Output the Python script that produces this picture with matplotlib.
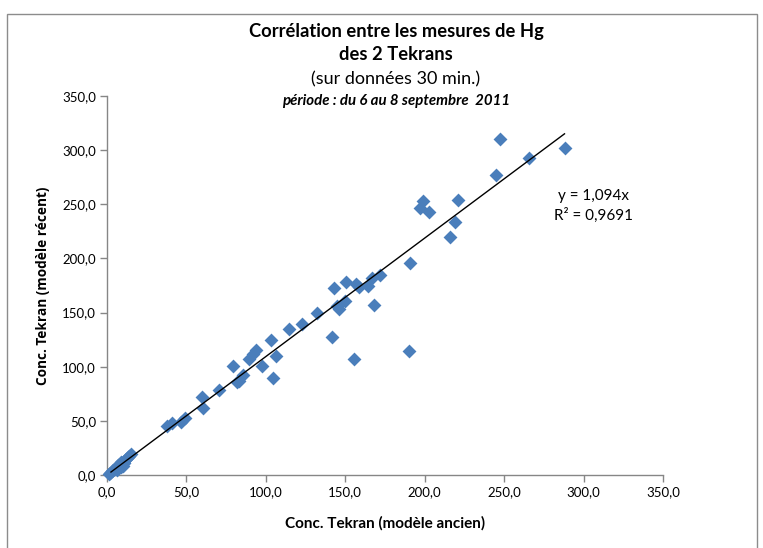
import matplotlib
matplotlib.use("Agg")
import matplotlib.pyplot as plt
from matplotlib.patches import Rectangle
from matplotlib.ticker import FuncFormatter, MultipleLocator

# readings: old-model concentration (x) vs recent-model concentration (y)
old = [1.0, 2.0, 3.0, 4.0, 5.0, 6.0, 6.5, 7.0, 8.0, 8.5, 9.0, 10.0, 10.5, 11.0,
       12.0, 13.0, 14.0, 15.0,
       37.7, 40.8, 46.6, 49.0, 59.8, 60.4, 70.5, 79.4, 81.8, 83.4, 85.8, 89.5,
       91.6, 94.0, 97.8, 103.3, 104.5, 106.3, 114.3, 122.6, 132.4, 141.6, 143.0,
       145.0, 146.0, 149.9, 150.5, 157.0, 158.7, 164.0, 166.7, 168.0, 172.0,
       155.7, 190.0, 191.0, 215.7, 218.8, 220.7, 197.0, 199.0, 203.0, 245.0,
       247.3, 265.4, 288.0]
recent = [0.8, 2.0, 3.5, 4.8, 5.5, 7.0, 4.5, 9.0, 10.5, 7.5, 12.0, 8.5, 13.0, 11.5,
          15.0, 16.5, 18.0, 19.5,
          45.0, 48.4, 49.0, 53.0, 72.0, 62.0, 78.4, 100.6, 86.0, 87.0, 92.0, 107.4,
          112.0, 115.0, 100.3, 125.0, 89.4, 110.0, 135.0, 139.0, 150.0, 127.4, 173.0,
          156.0, 153.5, 161.0, 178.0, 176.0, 174.0, 175.0, 181.6, 156.8, 184.5,
          107.4, 114.5, 196.0, 220.0, 234.0, 253.5, 247.0, 253.0, 242.6, 277.0,
          310.0, 293.0, 302.0]

slope = 1.094
r2 = 0.9691
trend_x = [2.5, 288.0]

FONT = ["Lato", "DejaVu Sans"]
plt.rcParams["font.family"] = FONT

fig = plt.figure(figsize=(7.63, 5.48), dpi=100)
# chart area border (Excel style)
fig.patches.append(Rectangle((7 / 763, -0.05), 750 / 763, 1.05 - 14 / 548,
                             transform=fig.transFigure, fill=False,
                             edgecolor="#8c8c8c", lw=1.0))

ax = fig.add_axes([107 / 763, 73 / 548, 556 / 763, 379 / 548])
ax.scatter(old, recent, marker="D", s=50, color="#4a7ebb", linewidths=0, zorder=3,
           clip_on=False)
ax.plot(trend_x, [slope * v for v in trend_x], color="black", lw=1.0, zorder=4)

ax.set_xlim(0, 350)
ax.set_ylim(0, 350)
ax.xaxis.set_major_locator(MultipleLocator(50))
ax.yaxis.set_major_locator(MultipleLocator(50))
fmt = FuncFormatter(lambda v, p: f"{v:.1f}".replace(".", ","))
ax.xaxis.set_major_formatter(fmt)
ax.yaxis.set_major_formatter(fmt)
for s in ("top", "right"):
    ax.spines[s].set_visible(False)
for s in ("left", "bottom"):
    ax.spines[s].set_color("#868686")
    ax.spines[s].set_linewidth(1.0)
ax.tick_params(direction="out", length=5, width=1, color="#868686",
               labelsize=9.5, labelcolor="black", pad=3)

ax.set_xlabel("Conc. Tekran (modèle ancien)", fontsize=11, fontweight="bold", labelpad=13)
ax.set_ylabel("Conc. Tekran (modèle récent)", fontsize=9.8, fontweight="bold",
              labelpad=9, family=["Open Sans", "DejaVu Sans"])

fig.text(593 / 763, 1 - 196 / 548, f"y = {slope:.3f}x".replace(".", ","),
         ha="center", va="center", fontsize=11)
fig.text(593 / 763, 1 - 215 / 548, f"R² = {r2:.4f}".replace(".", ","),
         ha="center", va="center", fontsize=11)

cx = 396 / 763
fig.text(cx, 1 - 31 / 548, "Corrélation entre les mesures de Hg", ha="center",
         va="center", fontsize=13.2, fontweight="bold")
fig.text(cx, 1 - 55 / 548, "des 2 Tekrans", ha="center", va="center",
         fontsize=13.2, fontweight="bold")
fig.text(cx, 1 - 79 / 548, "(sur données 30 min.)", ha="center", va="center",
         fontsize=13)
fig.text(cx, 1 - 101 / 548, "période : du 6 au 8 septembre  2011", ha="center",
         va="center", fontsize=10.8, fontweight="bold", style="italic")

fig.savefig("out.png", dpi=100)
